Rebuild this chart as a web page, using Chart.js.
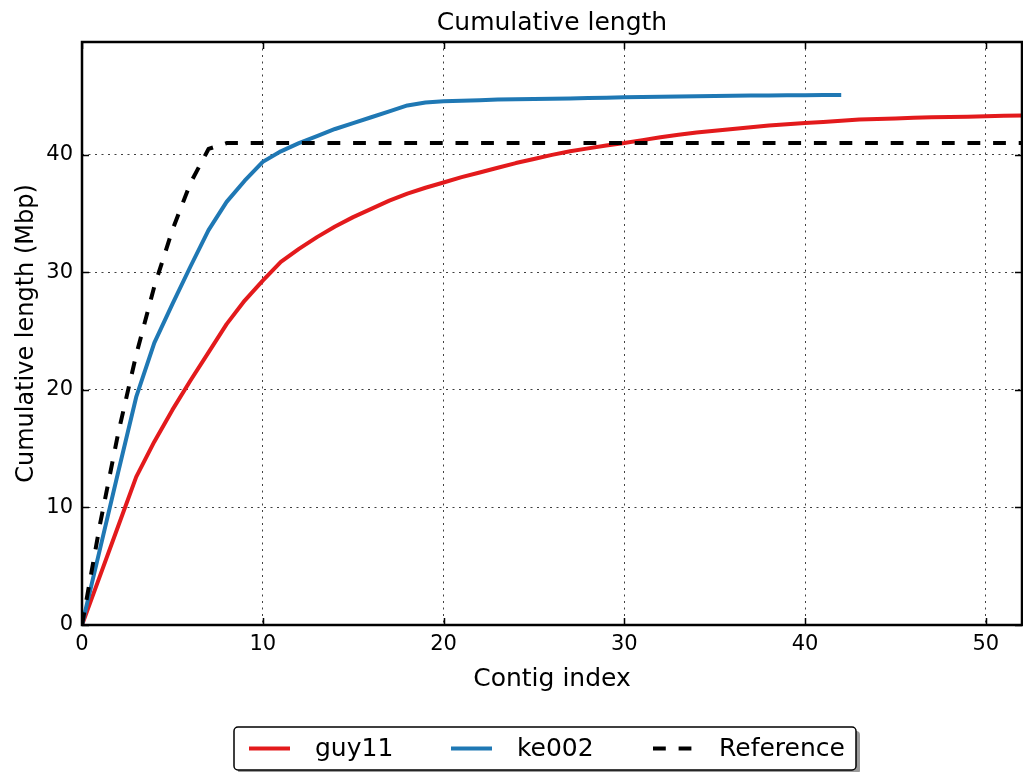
<!DOCTYPE html>
<html>
<head>
<meta charset="utf-8">
<script src="https://cdn.jsdelivr.net/npm/chart.js@4.4.1/dist/chart.umd.min.js"></script>
<style>
    html, body { margin: 0; padding: 0; background: #fff; }
</style>
</head>
<body>
<canvas id="grafikPanjang" width="1023" height="772"></canvas>
<script>
// Data (Mbp per indeks contig)
const indeksGuy = [0,1,2,3,4,5,6,7,8,9,10,11,12,13,14,15,16,17,18,19,20,21,22,23,24,25,26,
    27,28,29,30,31,32,33,34,35,36,37,38,39,40,41,42,43,44,45,46,47,48,49,50,51,52];
const panjangGuy = [0,4.2,8.4,12.6,15.6,18.3,20.8,23.2,25.6,27.6,29.3,30.9,32.0,33.0,33.9,34.7,
    35.4,36.1,36.7,37.2,37.65,38.1,38.5,38.9,39.3,39.65,40.0,40.3,40.55,40.8,41.0,41.25,41.5,
    41.7,41.9,42.05,42.2,42.35,42.5,42.6,42.7,42.8,42.9,43.0,43.05,43.1,43.15,43.2,43.22,
    43.25,43.28,43.32,43.35];

const indeksKe = [0,1,2,3,4,5,6,7,8,9,10,11,12,13,14,15,16,17,18,19,20,21,22,23,24,25,26,
    27,28,29,30,31,32,33,34,35,36,37,38,39,40,41,42];
const panjangKe = [0,6.5,13.0,19.4,24.0,27.3,30.5,33.6,36.0,37.8,39.4,40.3,41.0,41.6,42.2,
    42.7,43.2,43.7,44.2,44.45,44.55,44.6,44.65,44.7,44.72,44.75,44.78,44.8,44.83,44.86,44.9,
    44.92,44.94,44.96,44.98,45.0,45.02,45.04,45.05,45.06,45.08,45.09,45.1];

const indeksRef = [0,1,2,3,4,5,6,7,8,52];
const panjangRef = [0,8.6,16.3,23.0,28.8,33.6,37.6,40.5,41.0,41.0];

const tickX = [0,10,20,30,40,50];
const tickY = [0,10,20,30,40];

const FONT = '"DejaVu Sans", sans-serif';

function gabung(xs, ys) {
    return xs.map((x, i) => ({ x: x, y: ys[i] }));
}

// Judul, bingkai, tick ke dalam dan legenda ala matplotlib
const hiasan = {
    id: 'hiasan',
    afterDraw(chart) {
        const ctx = chart.ctx;
        const a = chart.chartArea;
        const sx = chart.scales.x;
        const sy = chart.scales.y;

        ctx.save();
        ctx.strokeStyle = '#000';
        ctx.lineWidth = 1.5;
        ctx.beginPath();
        tickX.forEach(v => {
            const px = Math.round(sx.getPixelForValue(v)) + 0.5;
            ctx.moveTo(px, a.bottom); ctx.lineTo(px, a.bottom - 7);
            ctx.moveTo(px, a.top); ctx.lineTo(px, a.top + 7);
        });
        tickY.forEach(v => {
            const py = Math.round(sy.getPixelForValue(v)) + 0.5;
            ctx.moveTo(a.left, py); ctx.lineTo(a.left + 7, py);
            ctx.moveTo(a.right, py); ctx.lineTo(a.right - 7, py);
        });
        ctx.stroke();

        // bingkai
        ctx.lineWidth = 2.5;
        ctx.strokeRect(a.left, a.top, a.right - a.left, a.bottom - a.top);

        // judul
        ctx.fillStyle = '#000';
        ctx.font = '25px ' + FONT;
        ctx.textAlign = 'center';
        ctx.textBaseline = 'alphabetic';
        ctx.fillText('Cumulative length', (a.left + a.right) / 2, 30);
        ctx.fillText('Contig index', (a.left + a.right) / 2, 686);

        ctx.save();
        ctx.translate(33, (a.top + a.bottom) / 2);
        ctx.rotate(-Math.PI / 2);
        ctx.font = '24px ' + FONT;
        ctx.fillText('Cumulative length (Mbp)', 0, 0);
        ctx.restore();

        // legenda
        const lx = 234, ly = 727, lw = 622, lh = 43;
        ctx.fillStyle = '#9a9a9a';
        ctx.beginPath();
        ctx.roundRect(lx + 4, ly + 4, lw, lh, 4);
        ctx.fill();
        ctx.fillStyle = '#fff';
        ctx.strokeStyle = '#000';
        ctx.lineWidth = 1.5;
        ctx.beginPath();
        ctx.roundRect(lx, ly, lw, lh, 4);
        ctx.fill();
        ctx.stroke();

        const tengah = ly + lh / 2;
        ctx.font = '25px ' + FONT;
        ctx.textAlign = 'left';
        ctx.textBaseline = 'middle';
        chart.data.datasets.forEach((ds, i) => {
            const x0 = 249 + i * 202;
            ctx.strokeStyle = ds.borderColor;
            ctx.lineWidth = ds.borderWidth;
            ctx.setLineDash(ds.borderDash || []);
            ctx.beginPath();
            ctx.moveTo(x0, tengah);
            ctx.lineTo(x0 + 41, tengah);
            ctx.stroke();
            ctx.setLineDash([]);
            ctx.fillStyle = '#000';
            ctx.fillText(ds.label, x0 + 66, tengah + 1);
        });
        ctx.restore();
    }
};

const ctx = document.getElementById('grafikPanjang').getContext('2d');

new Chart(ctx, {
    type: 'line',
    data: {
        datasets: [{
            label: 'guy11',
            data: gabung(indeksGuy, panjangGuy),
            borderColor: '#e31a1c',
            borderWidth: 4,
            order: 2
        }, {
            label: 'ke002',
            data: gabung(indeksKe, panjangKe),
            borderColor: '#1f78b4',
            borderWidth: 4,
            order: 1
        }, {
            label: 'Reference',
            data: gabung(indeksRef, panjangRef),
            borderColor: '#000',
            borderWidth: 4,
            borderDash: [12.8, 12.8],
            order: 0
        }]
    },
    options: {
        responsive: false,
        animation: false,
        devicePixelRatio: 1,
        layout: {
            padding: { top: 42, right: 1, bottom: 0, left: 0 }
        },
        elements: {
            point: { radius: 0 },
            line: { tension: 0, borderJoinStyle: 'round', borderCapStyle: 'butt', fill: false }
        },
        plugins: {
            legend: { display: false },
            title: { display: false },
            tooltip: { enabled: false }
        },
        scales: {
            x: {
                type: 'linear',
                min: 0,
                max: 52,
                afterBuildTicks: s => { s.ticks = tickX.map(v => ({ value: v })); },
                afterFit: s => { s.height = 147; },
                ticks: {
                    color: '#000',
                    font: { family: FONT, size: 21 },
                    padding: 7,
                    maxRotation: 0
                },
                grid: {
                    color: 'rgba(0,0,0,0.75)',
                    lineWidth: 1,
                    drawTicks: false
                },
                border: { display: false, dash: [2, 4.5] }
            },
            y: {
                type: 'linear',
                min: 0,
                max: 49.6,
                afterBuildTicks: s => { s.ticks = tickY.map(v => ({ value: v })); },
                afterFit: s => { s.width = 82; },
                ticks: {
                    color: '#000',
                    font: { family: FONT, size: 21 },
                    padding: 9
                },
                grid: {
                    color: 'rgba(0,0,0,0.75)',
                    lineWidth: 1,
                    drawTicks: false
                },
                border: { display: false, dash: [2, 4.5] }
            }
        }
    },
    plugins: [hiasan]
});
</script>
</body>
</html>
